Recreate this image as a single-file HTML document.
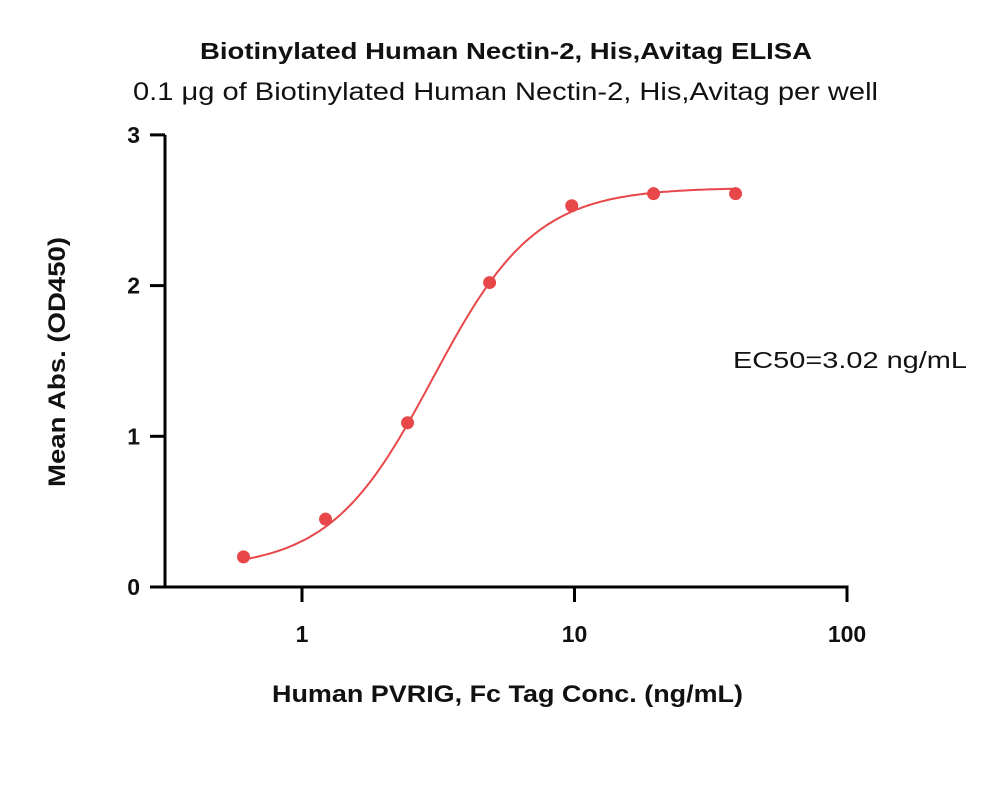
<!DOCTYPE html>
<html><head><meta charset="utf-8"><style>
body{margin:0;background:#fff;}
svg text{font-family:"Liberation Sans",sans-serif;fill:#111;}
</style></head><body>
<svg width="1000" height="781" viewBox="0 0 1000 781">
<text x="200" y="59" font-size="23" font-weight="bold" textLength="612" lengthAdjust="spacingAndGlyphs">Biotinylated Human Nectin-2, His,Avitag ELISA</text>
<text x="133" y="100" font-size="25" textLength="745" lengthAdjust="spacingAndGlyphs">0.1 μg of Biotinylated Human Nectin-2, His,Avitag per well</text>
<text x="272" y="702" font-size="24" font-weight="bold" textLength="471" lengthAdjust="spacingAndGlyphs">Human PVRIG, Fc Tag Conc. (ng/mL)</text>
<text transform="translate(65,487) rotate(-90)" font-size="24" font-weight="bold" textLength="250" lengthAdjust="spacingAndGlyphs">Mean Abs. (OD450)</text>
<text x="733" y="368" font-size="23" textLength="234" lengthAdjust="spacingAndGlyphs">EC50=3.02 ng/mL</text>
<g id="axes"></g>
<g id="marks"></g>
</svg>
<script>
const xConc=[0.61,1.22,2.44,4.88,9.77,19.5,39];
const yOD=[0.20,0.45,1.09,2.02,2.53,2.61,2.61];
const xTicks=[1,10,100];
const yTicks=[0,1,2,3];
const fitBottom=0.12, fitTop=2.65, fitEC50=3.02, fitHill=2.3;
const NS="http://www.w3.org/2000/svg";
const X=v=>302+272.5*Math.log10(v);
const Y=v=>587-150.7*v;
const axes=document.getElementById('axes'),marks=document.getElementById('marks');
function mk(tag,attrs,parent){const e=document.createElementNS(NS,tag);for(const k in attrs)e.setAttribute(k,attrs[k]);parent.appendChild(e);return e;}
let l=mk('line',{x1:165,y1:Y(3),x2:165,y2:588.5,stroke:'#000','stroke-width':3},axes);


l=mk('line',{x1:163.5,y1:587,x2:X(100)+1.5,y2:587,stroke:'#000','stroke-width':3},axes);


yTicks.forEach(t=>{
 const tk=mk('line',{x1:150,y1:Y(t),x2:165,y2:Y(t),stroke:'#000','stroke-width':3},axes);
 
 
 const tx=mk('text',{x:140,y:Y(t)+8,'text-anchor':'end','font-size':23,'font-weight':'bold'},axes);
 tx.textContent=t;
 
 
});
xTicks.forEach(t=>{
 const tk=mk('line',{x1:X(t),y1:587,x2:X(t),y2:602,stroke:'#000','stroke-width':3},axes);
 
 
 const tx=mk('text',{x:X(t),y:642,'text-anchor':'middle','font-size':23,'font-weight':'bold'},axes);
 tx.textContent=t;
 
 
});
let d='';
const lo=Math.log10(xConc[0]),hi=Math.log10(xConc[xConc.length-1]);
for(let i=0;i<=200;i++){const lx=lo+(hi-lo)*i/200,x=Math.pow(10,lx);
 const y=fitBottom+(fitTop-fitBottom)/(1+Math.pow(fitEC50/x,fitHill));
 d+=(i?'L':'M')+X(x).toFixed(1)+','+Y(y).toFixed(1);}
const p=mk('path',{d:d,fill:'none',stroke:'#e8474a','stroke-width':2},marks);


xConc.forEach((x,i)=>{
 const c=mk('circle',{cx:X(x),cy:Y(yOD[i]),r:6.5,fill:'#e8474a'},marks);
 
 
});
</script>
</body></html>
